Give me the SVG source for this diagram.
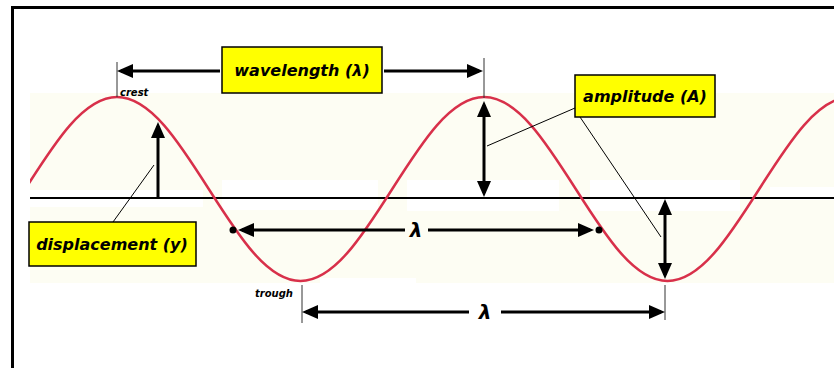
<svg xmlns="http://www.w3.org/2000/svg" width="834" height="368" viewBox="0 0 834 368">
  <defs>
    <marker id="ah" markerUnits="userSpaceOnUse" markerWidth="16" markerHeight="14" refX="12" refY="7" orient="auto-start-reverse" viewBox="0 0 16 14">
      <path d="M0,0 L16,7 L0,14 z" fill="#000"/>
    </marker>
    <clipPath id="panel"><rect x="30" y="90" width="804" height="200"/></clipPath>
  </defs>
  <style>
    .box { fill: #ffff00; stroke: #000; stroke-width: 1.5; }
    .lbl { font-family: "DejaVu Sans", "Liberation Sans", sans-serif; font-weight: bold; font-style: italic; fill: #000; }
    .big { font-size: 16px; text-anchor: middle; }
    .lam { font-size: 20px; text-anchor: middle; }
    .small { font-size: 10px; }
    .arr { stroke: #000; stroke-width: 3; fill: none; }
    .tick { stroke: #333; stroke-width: 1; fill: none; }
    .lead { stroke: #000; stroke-width: 1; fill: none; }
  </style>
  <rect width="834" height="368" fill="#fff"/>
  <!-- frame -->
  <path d="M12.5,368 V7.5 H834" fill="none" stroke="#000" stroke-width="3"/>
  <!-- cream panel -->
  <rect x="30" y="93" width="804" height="190" fill="#fdfdf3"/>
  <g fill="#fff">
    <rect x="30" y="190" width="173" height="17"/>
    <rect x="222" y="180" width="156" height="30"/>
    <rect x="407" y="180" width="152" height="31"/>
    <rect x="590" y="180" width="150" height="31"/>
    <rect x="770" y="187" width="64" height="13"/>
    <rect x="320" y="278" width="96" height="6"/>
  </g>
  <!-- axis -->
  <line x1="30" y1="198" x2="834" y2="198" stroke="#000" stroke-width="2"/>
  <!-- wave -->
  <path clip-path="url(#panel)" fill="none" stroke="#d8304a" stroke-width="2.5" d="M25.25,189 C55.19,141.84 83.81,97 117,97 C150.19,97 178.81,141.84 208.75,189 C238.69,236.16 267.31,281 300.5,281 C333.69,281 362.31,236.16 392.25,189 C422.19,141.84 450.81,97 484,97 C517.19,97 545.81,141.84 575.75,189 C605.69,236.16 634.31,281 667.5,281 C700.69,281 729.31,236.16 759.25,189 C789.19,141.84 817.81,97 851,97"/>
  <g id="connectors">
    <!-- ticks -->
    <line class="tick" x1="117" y1="62" x2="117" y2="97"/>
    <line class="tick" x1="484" y1="58" x2="484" y2="98"/>
    <line class="tick" x1="302" y1="285" x2="302" y2="323"/>
    <line class="tick" x1="665" y1="285" x2="665" y2="320"/>
    <!-- wavelength top -->
    <line class="arr" x1="121" y1="71" x2="220" y2="71" marker-start="url(#ah)"/>
    <line class="arr" x1="384" y1="71" x2="479" y2="71" marker-end="url(#ah)"/>
    <!-- wavelength middle -->
    <line class="arr" x1="242" y1="230" x2="405" y2="230" marker-start="url(#ah)"/>
    <line class="arr" x1="428" y1="230" x2="590" y2="230" marker-end="url(#ah)"/>
    <circle cx="233" cy="230" r="3.5" fill="#000"/>
    <circle cx="599" cy="230" r="3.5" fill="#000"/>
    <!-- wavelength bottom -->
    <line class="arr" x1="306" y1="312" x2="469" y2="312" marker-start="url(#ah)"/>
    <line class="arr" x1="501" y1="312" x2="661" y2="312" marker-end="url(#ah)"/>
    <!-- amplitude arrows -->
    <line class="arr" x1="484" y1="105" x2="484" y2="193" marker-start="url(#ah)" marker-end="url(#ah)"/>
    <line class="arr" x1="665" y1="203" x2="665" y2="275" marker-start="url(#ah)" marker-end="url(#ah)"/>
    <!-- displacement arrow -->
    <line class="arr" x1="158" y1="198" x2="158" y2="126" marker-end="url(#ah)"/>
    <!-- leaders -->
    <line class="lead" x1="575" y1="108" x2="487" y2="146"/>
    <line class="lead" x1="580" y1="117" x2="661" y2="237"/>
    <line class="lead" x1="113" y1="222" x2="154" y2="165"/>
  </g>
  <g id="wavelength">
    <rect class="box" x="222" y="47" width="160" height="46"/>
    <text class="lbl big" x="302" y="76">wavelength (λ)</text>
  </g>
  <g id="amplitude">
    <rect class="box" x="575" y="75" width="140" height="42"/>
    <text class="lbl big" x="645" y="102">amplitude (A)</text>
  </g>
  <g id="displacement">
    <rect class="box" x="29" y="222" width="167" height="44"/>
    <text class="lbl big" x="112" y="250">displacement (y)</text>
  </g>
  <g id="crest"><text class="lbl small" x="120" y="96">crest</text></g>
  <g id="trough"><text class="lbl small" x="255" y="297">trough</text></g>
  <g id="lambda-mid"><text class="lbl lam" x="416" y="237">λ</text></g>
  <g id="lambda-bottom"><text class="lbl lam" x="485" y="319">λ</text></g>
</svg>
